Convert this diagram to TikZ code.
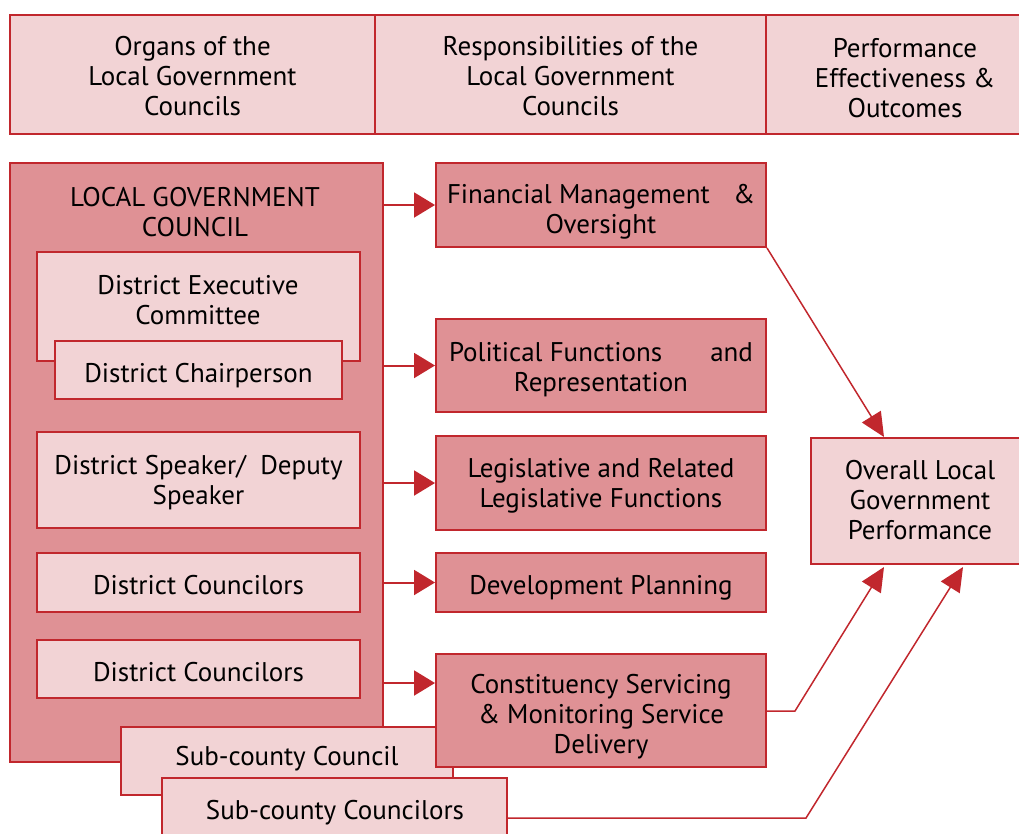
\documentclass[tikz,border=0pt]{standalone}
\usepackage{fontspec}
\setmainfont{PT Sans}
\usetikzlibrary{arrows.meta}
\definecolor{rd}{HTML}{C1272D}
\definecolor{dk}{HTML}{DF9195}
\definecolor{lt}{HTML}{F2D3D5}
\newcommand\mkbox[8]{\node[#6, minimum width={(#4-#2)*1pt}, minimum height={(#5-#3)*1pt}] (#1) at ({(#2+#4)/2},{(#3+#5)/2}) {};
  \node[lbl] (#1t) at ({(#2+#4)/2},{(#3+#5)/2+#8}) {#7};}
\begin{document}
\begin{tikzpicture}[x=1pt,y=-1pt,
  base/.style={draw=rd, line width=2pt, inner sep=0pt},
  dbox/.style={base, fill=dk},
  lbox/.style={base, fill=lt},
  lbl/.style={inner sep=0pt, align=center, font=\fontsize{27}{30}\selectfont},
  harr/.style={draw=rd, line width=2pt, -{Triangle[length=21pt,width=25pt]}},
  darr/.style={draw=rd, line width=1.5pt, -{Triangle[length=24pt,width=22pt]}}]
\useasboundingbox (0,0) rectangle (1019,833);
% header
\mkbox{h1}{10}{15}{375}{134}{lbox}{Organs of the\\Local Government\\Councils}{2}
\mkbox{h2}{375}{15}{766}{134}{lbox}{Responsibilities of the\\Local Government\\Councils}{2}
\mkbox{h3}{766}{15}{1030}{134}{lbox}{}{0}
\node[lbl] (h3tx) at (905,78) {Performance\\Effectiveness \&\\Outcomes};
% left big box
\mkbox{lgc}{10}{163}{383}{762}{dbox}{}{0}
\node[lbl] (lgctx) at (195,212) {LOCAL GOVERNMENT\\COUNCIL};
\mkbox{dec}{37}{252}{360}{361}{lbox}{}{0}
\node[lbl] (dectx) at (198,300) {District Executive\\Committee};
\mkbox{chair}{55}{341}{342}{399}{lbox}{District Chairperson}{6}
\mkbox{spk}{37}{432}{360}{528}{lbox}{District Speaker/ \ Deputy\\Speaker}{3}
\mkbox{dc1}{37}{553}{360}{612}{lbox}{District Councilors}{3}
\mkbox{dc2}{37}{640}{360}{698}{lbox}{District Councilors}{3}
\mkbox{scc}{121}{727}{453}{795}{lbox}{}{0}
\node[lbl] (scctx) at (287,759) {Sub-county Council};
% middle
\mkbox{fin}{436}{163}{766}{247}{dbox}{\makebox[308pt]{Financial Management\hfill\&}\\Oversight}{7}
\mkbox{pol}{436}{319}{766}{412}{dbox}{\makebox[304pt]{Political Functions\hfill and}\\Representation}{4}
\mkbox{leg}{436}{436}{766}{530}{dbox}{Legislative and Related\\Legislative Functions}{3}
\mkbox{dev}{436}{553}{766}{612}{dbox}{Development Planning}{5}
\mkbox{con}{436}{654}{766}{767}{dbox}{Constituency Servicing\\\& Monitoring Service\\Delivery}{6}
\mkbox{sco}{162}{778}{507}{850}{lbox}{}{0}
\node[lbl] (scotx) at (335,813) {Sub-county Councilors};
% right
\mkbox{ovr}{811}{438}{1030}{564}{lbox}{}{0}
\node[lbl] (ovrtx) at (920,500) {Overall Local\\Government\\Performance};
% arrows
\draw[harr] (lgc.east |- fin.west) -- (fin.west);
\draw[harr] (lgc.east |- pol.west) -- (pol.west);
\draw[harr] (lgc.east |- leg.west) -- (leg.west);
\draw[harr] (lgc.east |- dev.west) -- (dev.west);
\draw[harr] (lgc.east |- 0,683) -- (con.west |- 0,683);
\coordinate (t1) at (884,437);
\coordinate (b1) at (795,711);
\coordinate (t2) at (884,567);
\coordinate (b2) at (806,818);
\coordinate (t3) at (963,567);
\draw[darr] (fin.south east) -- (t1);
\draw[darr] (con.east |- b1) -- (b1) -- (t2);
\draw[darr] (sco.east |- b2) -- (b2) -- (t3);
\end{tikzpicture}
\end{document}
